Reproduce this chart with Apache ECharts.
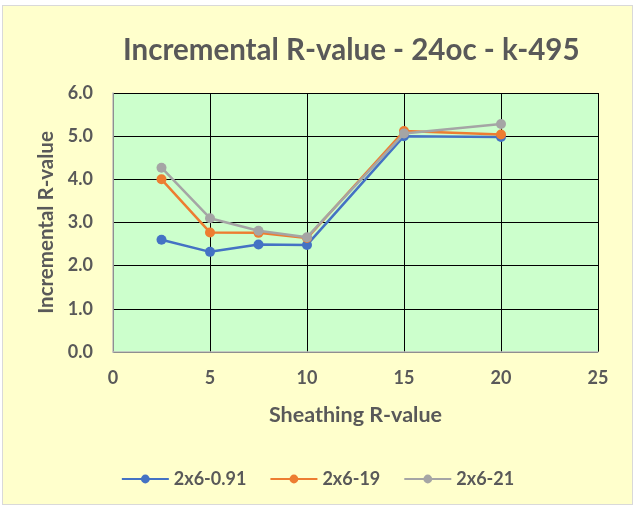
<!DOCTYPE html>
<html><head><meta charset="utf-8">
<script src="https://cdn.jsdelivr.net/npm/echarts@6/dist/echarts.min.js"></script>
<style>
html,body{margin:0;padding:0;background:#fff;}
#c{position:absolute;left:2px;top:5px;width:631px;height:500px;border:1px solid #d9d9d9;box-sizing:border-box;background:#FFFFCC;}
</style></head><body>
<div id="c"></div>
<script>
const xValues = [2.5, 5, 7.5, 10, 15, 20];
const seriesNames = ['2x6-0.91', '2x6-19', '2x6-21'];
const s1 = [2.60, 2.32, 2.49, 2.48, 5.00, 4.98];
const s2 = [4.00, 2.77, 2.76, 2.64, 5.12, 5.04];
const s3 = [4.27, 3.10, 2.81, 2.66, 5.06, 5.28];
const colors = ['#4472C4', '#ED7D31', '#A5A5A5'];
const FONT = 'Lato, "Open Sans", sans-serif';
const GREY = '#595959';

const chart = echarts.init(document.getElementById('c'), null, {renderer:'canvas'});
const mk = (name, arr, i) => ({
  name, type:'line', data: xValues.map((x,k)=>[x, arr[k]]),
  symbol:'circle', symbolSize:10,
  lineStyle:{color:colors[i], width:2.5},
  itemStyle:{color:colors[i]},
  z: 3+i
});
chart.setOption({
  backgroundColor:'transparent',
  textStyle:{fontFamily:FONT},
  title:{text:'Incremental R-value - 24oc - k-495', left:115, top:24,
    textStyle:{fontSize:29.5, fontWeight:'bold', color:GREY, fontFamily:FONT}},
  grid:{left:110, right:34, top:87, bottom:152, backgroundColor:'#CCFFCC', show:true, borderWidth:0},
  legend:{bottom:11, left:'center', itemWidth:47, itemHeight:11, itemGap:23,
    textStyle:{fontSize:18, fontWeight:'bold', color:GREY, fontFamily:FONT},
    data:seriesNames},
  xAxis:{type:'value', min:0, max:25, interval:5,
    name:'Sheathing R-value', nameLocation:'middle', nameGap:52,
    nameTextStyle:{fontSize:21.5, fontWeight:'bold', color:GREY},
    axisLine:{show:true, onZero:false, lineStyle:{color:'#BFBFBF', width:1.5}}, axisTick:{show:false},
    axisLabel:{fontSize:18, fontWeight:'bold', color:GREY, margin:17},
    splitLine:{show:true, lineStyle:{color:'#000', width:1}}},
  yAxis:{type:'value', min:0, max:6, interval:1,
    name:'Incremental R-value', nameLocation:'middle', nameGap:56,
    nameTextStyle:{fontSize:20.5, fontWeight:'bold', color:GREY},
    axisLine:{show:true, onZero:false, lineStyle:{color:'#BFBFBF', width:1.5}}, axisTick:{show:false},
    axisLabel:{fontSize:18, fontWeight:'bold', color:GREY, margin:20, formatter:v=>v.toFixed(1)},
    splitLine:{show:true, lineStyle:{color:'#000', width:1}}},
  series:[mk(seriesNames[0], s1, 0), mk(seriesNames[1], s2, 1), mk(seriesNames[2], s3, 2)]
});
</script></body></html>
